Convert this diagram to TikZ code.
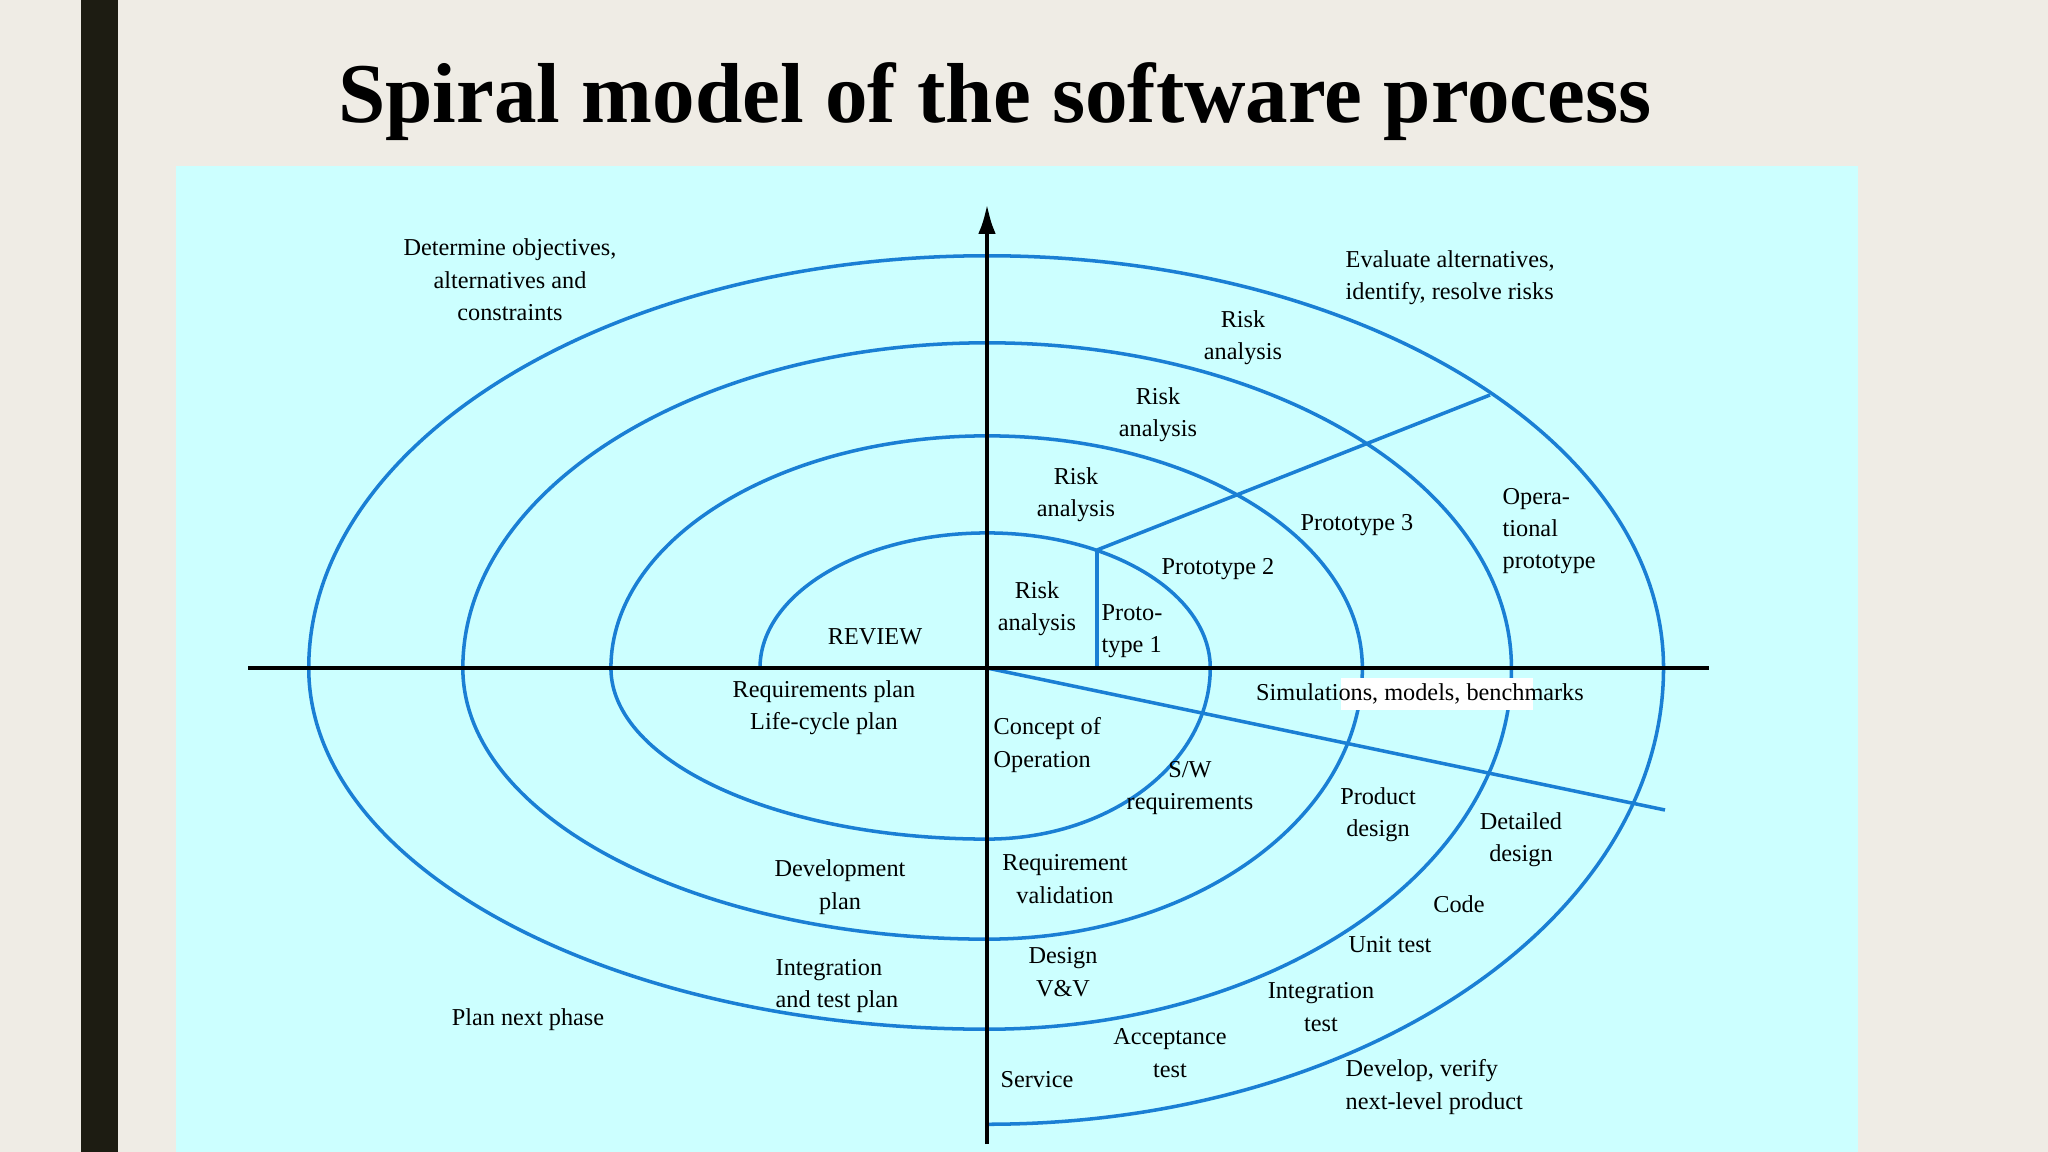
\documentclass[tikz,border=0pt]{standalone}
\usepackage{fontspec}
\setmainfont{Liberation Serif}
\usetikzlibrary{arrows.meta}

\definecolor{slidebg}{HTML}{EFECE5}
\definecolor{slidebar}{HTML}{1D1C12}
\definecolor{panel}{HTML}{CCFFFF}
\definecolor{spiralblue}{HTML}{1A7FD4}

\tikzset{
  lbl/.style={font=\fontsize{6.9}{9.2}\selectfont, align=center, inner sep=0pt},
  lbll/.style={lbl, align=left, anchor=west},
  spiral/.style={draw=spiralblue, line width=1pt, line join=round},
  axis/.style={draw=black, line width=1.2pt}
}

\begin{document}
\begin{tikzpicture}[x=0.01cm,y=-0.01cm]
  \useasboundingbox (0,0) rectangle (2048,1152);
  \fill [slidebg] (0,0) rectangle (2048,1152);
  \fill [slidebar] (81,0) rectangle (118,1152);
  \fill [panel] (176,166) rectangle (1858,1152);

  \node (title) at (995,123) [anchor=base, inner sep=0pt, font=\fontsize{24.2}{29}\selectfont\bfseries] {Spiral model of the software process};

  % axes and spiral
  \coordinate (o) at (987,668);
  \coordinate (xl) at (248,668);
  \coordinate (xr) at (1709,668);
  \coordinate (yt) at (987,204);
  \coordinate (yb) at (987,1144);
  \coordinate (s0) at (760,668);
  \coordinate (p0) at (1097,668);
  \coordinate (p1) at (1097,550);
  \coordinate (p2) at (1490,395);
  \coordinate (p3) at (1665,810);

  \draw [spiral] (s0)
    arc[start angle=180, end angle=90, x radius=2.27cm, y radius=1.35cm]
    arc[start angle=90, end angle=0, x radius=2.23cm, y radius=1.35cm]
    arc[start angle=0, end angle=-90, x radius=2.23cm, y radius=1.71cm]
    arc[start angle=270, end angle=180, x radius=3.76cm, y radius=1.71cm]
    arc[start angle=180, end angle=90, x radius=3.76cm, y radius=2.32cm]
    arc[start angle=90, end angle=0, x radius=3.75cm, y radius=2.32cm]
    arc[start angle=0, end angle=-90, x radius=3.75cm, y radius=2.71cm]
    arc[start angle=270, end angle=180, x radius=5.24cm, y radius=2.71cm]
    arc[start angle=180, end angle=90, x radius=5.24cm, y radius=3.25cm]
    arc[start angle=90, end angle=0, x radius=5.24cm, y radius=3.25cm]
    arc[start angle=0, end angle=-90, x radius=5.24cm, y radius=3.61cm]
    arc[start angle=270, end angle=180, x radius=6.78cm, y radius=3.61cm]
    arc[start angle=180, end angle=90, x radius=6.78cm, y radius=4.12cm]
    arc[start angle=90, end angle=0, x radius=6.76cm, y radius=4.12cm]
    arc[start angle=0, end angle=-90, x radius=6.76cm, y radius=4.56cm];

  \draw [spiral] (p0) -- (p1);
  \draw [spiral] (p1) -- (p2);
  \draw [spiral] (o) -- (p3);

  \draw [axis] (xl) -- (xr);
  \draw [axis, -{Latex[length=8.5pt,width=5pt]}] (yb) -- (yt);

  % quadrant texts
  \node (obj) at (510,280) [lbl] {Determine objectives,\\alternatives and\\constraints};
  \node (eval) at (1345,278) [lbll] {Evaluate alternatives,\\identify, resolve risks};
  \node (plan) at (528,1020) [lbl] {Plan next phase};
  \node (dev) at (1345,1087) [lbll] {Develop, verify\\next-level product};

  % upper right
  \node (risk4) at (1243,338) [lbl] {Risk\\analysis};
  \node (risk3) at (1158,415) [lbl] {Risk\\analysis};
  \node (risk2) at (1076,495) [lbl] {Risk\\analysis};
  \node (risk1) at (1037,609) [lbl] {Risk\\analysis};
  \node (proto1) at (1101,631) [lbll] {Proto-\\type 1};
  \node (proto2) at (1218,569) [lbl] {Prototype 2};
  \node (proto3) at (1357,525) [lbl] {Prototype 3};
  \node (opproto) at (1502,531) [lbll] {Opera-\\tional\\prototype};

  % simulations
  \fill [white] (1341,678) rectangle (1533,710);
  \node (sim) at (1420,694) [lbl] {Simulations, models, benchmarks};

  % upper left and lower left
  \node (review) at (875,637) [lbl] {REVIEW};
  \node (reqplan) at (824,708) [lbl] {Requirements plan\\Life-cycle plan};
  \node (devplan) at (840,887) [lbl] {Development\\plan};
  \node (intplan) at (775,986) [lbll] {Integration\\and test plan};

  % lower right
  \node (concept) at (993,745) [lbll] {Concept of\\Operation};
  \node (swreq) at (1190,788) [lbl] {S/W\\requirements};
  \node (reqval) at (1065,879) [lbl] {Requirement\\validation};
  \node (desvv) at (1063,972) [lbl] {Design\\V\&V};
  \node (service) at (1037,1080) [lbl] {Service};
  \node (accept) at (1170,1053) [lbl] {Acceptance\\test};
  \node (inttest) at (1321,1007) [lbl] {Integration\\test};
  \node (unit) at (1390,945) [lbl] {Unit test};
  \node (code) at (1459,904) [lbl] {Code};
  \node (prodd) at (1378,815) [lbl] {Product\\design};
  \node (detd) at (1521,840) [lbl] {Detailed\\design};
\end{tikzpicture}
\end{document}
